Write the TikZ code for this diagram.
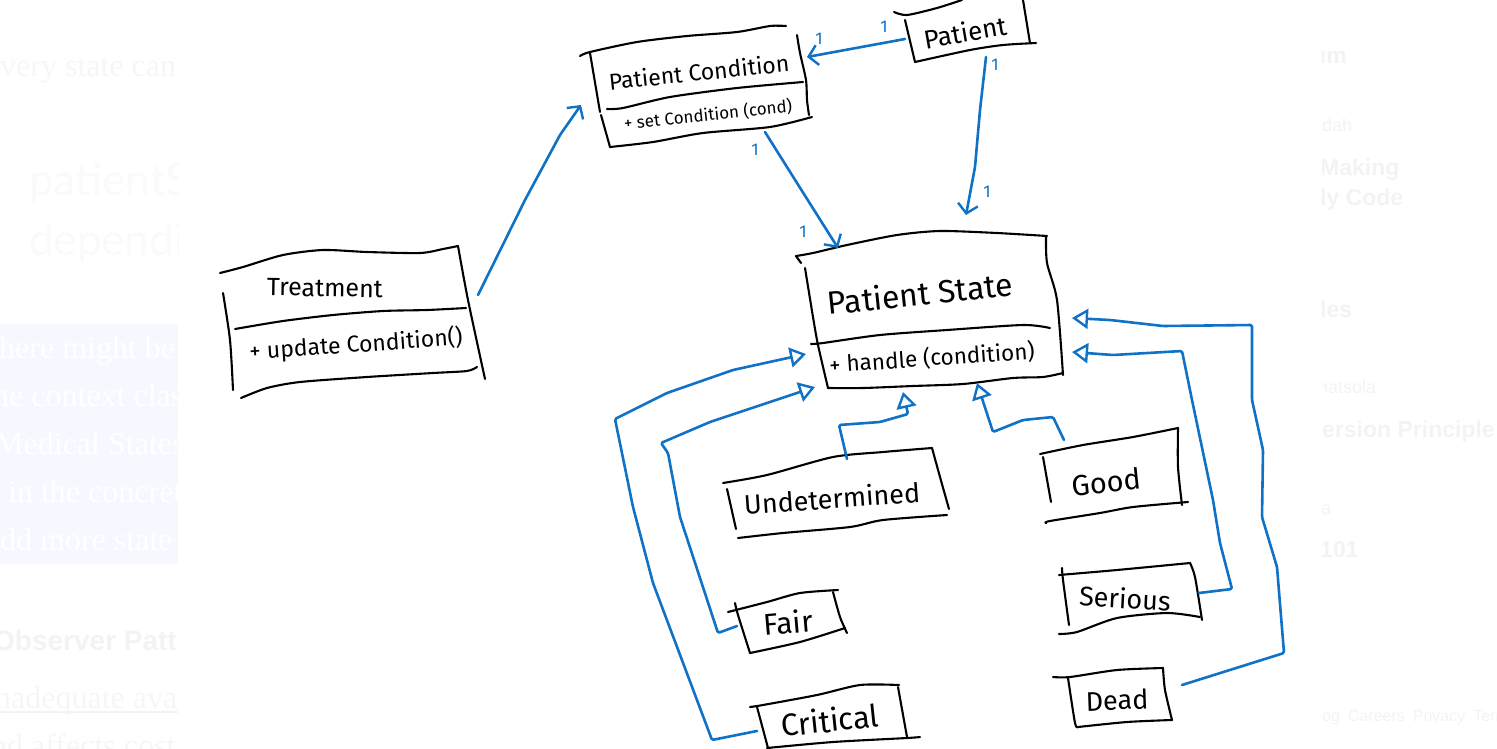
\documentclass[tikz,border=0pt]{standalone}
\usepackage{fontspec}
\usetikzlibrary{arrows.meta}
\setmainfont{Liberation Serif}
\newfontfamily\hand{Fira Sans}
\newfontfamily\fadesans{Liberation Sans}
\newfontfamily\fadelight{Lato}
\newcommand{\wob}[1]{\draw[ink] plot[smooth,tension=.45] coordinates {#1};}
\definecolor{inkblue}{HTML}{0F72C6}
\definecolor{panel}{HTML}{F5F8FF}
\definecolor{fadeA}{HTML}{F6F6F6}
\definecolor{fadeB}{HTML}{F3F3F3}
\tikzset{
  ink/.style={draw=black,line width=2.1pt,line cap=round,line join=round},
  wire/.style={draw=inkblue,line width=2.6pt,line cap=round,line join=round,rounded corners=1.5pt},
  assoc/.style={wire,-{Straight Barb[length=9pt,width=20pt,line width=2.4pt]}},
  inherit/.style={wire,-{Triangle[open,length=16pt,width=20pt,fill=white,line width=2.4pt]}},
  hw/.style={font=\hand\fontsize{#1}{#1}\selectfont,inner sep=0pt,text=black},
  mult/.style={font=\hand\fontsize{17}{17}\selectfont,text=inkblue,inner sep=0pt},
  fserif/.style={anchor=base west,inner sep=0pt,font=\fontsize{32}{32}\selectfont,text=#1},
  fbold/.style={anchor=base west,inner sep=0pt,font=\fadesans\bfseries\fontsize{23}{23}\selectfont,text=fadeB},
  fsmall/.style={anchor=base west,inner sep=0pt,font=\fadesans\fontsize{18}{18}\selectfont,text=fadeB},
  ffoot/.style={anchor=base west,inner sep=0pt,font=\fadesans\fontsize{16}{16}\selectfont,text=fadeB},
}
\begin{document}
\begin{tikzpicture}[x=1pt,y=-1pt]
\useasboundingbox (0,0) rectangle (1497,748);
% faded page behind the figure
\fill[panel] (0,324) rectangle (178,564);
\begin{scope}
\clip (0,0) rectangle (178,748);
\node[fserif=fadeA] (l1) at (0,76) {very state can};
\node[anchor=base west,inner sep=0pt,font=\fadelight\fontsize{44}{44}\selectfont,text=fadeA!60] (l2) at (29,195) {patientS};
\node[anchor=base west,inner sep=0pt,font=\fadelight\fontsize{44}{44}\selectfont,text=fadeA!60] (l3) at (29,255) {dependi};
\node[fserif=white] (p1) at (-1,358) {here might be};
\node[fserif=white] (p2) at (-7,406) {ne context clas};
\node[fserif=white] (p3) at (-5,454) {Medical States};
\node[fserif=white] (p4) at (8,502) {in the concret};
\node[fserif=white] (p5) at (0,550) {dd more state};
\node[anchor=base west,inner sep=0pt,font=\fadesans\bfseries\fontsize{28}{28}\selectfont,text=fadeB] (l4) at (-7,650) {Observer Patt};
\fill[fadeB] (0,711) rectangle (178,713);
\node[fserif=fadeA] (l5) at (-5,708) {nadequate ava};
\node[fserif=fadeA] (l6) at (-9,756) {nd affects cost};
\end{scope}
\begin{scope}
\clip (1322,0) rectangle (1497,748);
\node[fbold] (r1) at (1312,63) {um};
\node[fsmall] (r2) at (1300,131) {Sadah};
\node[fbold] (r3) at (1320,175) {Making};
\node[fbold] (r4) at (1320,205) {ly Code};
\node[fbold] (r5) at (1320,317) {les};
\node[fsmall] (r6) at (1318,393) {natsola};
\node[fbold] (r7) at (1322,437) {ersion Principle};
\node[fsmall] (r8) at (1312,514) {ka};
\node[fbold] (r9) at (1320,557) {101};
\node[ffoot] (r10) at (1322,721) {og\hspace{8pt}Careers\hspace{8pt}Privacy\hspace{8pt}Terms};
\end{scope}
% Treatment
\wob{(220,273)(243,267)(283,255)(323,250)(367,252)(420,253)(443,249)(458,246)}
\wob{(458,246)(468,300)(485,379)}
\wob{(235,329)(283,321)(333,315)(383,311)(427,310)(466,308)}
\wob{(223,293)(230,340)(233,390)}
\wob{(241,398)(267,388)(300,382)(367,377)(433,373)(467,371)(477,367)}
\node[hw=25,rotate=-1] (treatment) at (325,288) {Treatment};
\node[hw=23,rotate=4] (updatecond) at (356,345) {+ update Condition()};
% Patient Condition
\wob{(580,56)(590,52)(637,42)(687,36)(737,32)(770,26)(786,26)}
\wob{(590,53)(600,112)}
\wob{(601,115)(610,147)}
\wob{(797,35)(800,53)(806,80)(807,100)(809,115)}
\wob{(607,109)(623,108)(670,97)(737,88)(803,82)}
\wob{(610,147)(653,142)(703,133)(770,127)(812,117)}
\node[hw=23,rotate=6] (pcond) at (699,72) {Patient Condition};
\node[hw=17,rotate=6] (setcond) at (708,115) {+ set Condition (cond)};
% Patient
\wob{(894,12)(907,15)(937,8)(962,0)}
\wob{(905,20)(915,62)}
\wob{(1023,0)(1030,43)}
\wob{(915,62)(970,50)(1003,45)(1036,43)}
\node[hw=26,rotate=10] (patient) at (965,32) {Patient};
% Patient State
\wob{(796,256)(813,253)(847,245)(897,235)(940,231)(997,233)(1047,236)}
\wob{(796,256)(801,263)}
\wob{(805,268)(813,317)(818,345)(828,388)}
\wob{(1046,236)(1047,263)(1057,300)(1063,375)}
\wob{(811,344)(823,343)(880,335)(947,330)(1023,325)(1050,328)}
\wob{(828,388)(863,388)(913,386)(963,384)(1013,378)(1043,377)(1063,373)}
\node[hw=32,rotate=6] (pstate) at (920,293) {Patient State};
\node[hw=22.5,rotate=4] (handle) at (932,358) {+ handle (condition)};
% Undetermined
\wob{(723,483)(767,475)(833,457)(883,452)(932,448)}
\wob{(932,448)(940,477)(949,509)}
\wob{(727,489)(736,529)}
\wob{(738,538)(783,533)(850,527)(883,520)(947,515)}
\node[hw=27,rotate=4] (undet) at (832,498) {Undetermined};
% Fair
\wob{(728,612)(767,602)(800,593)(838,590)}
\wob{(735,603)(738,615)(750,653)}
\wob{(833,592)(840,617)(847,633)}
\wob{(750,653)(800,642)(845,628)}
\node[hw=30,rotate=5] (fair) at (788,622) {Fair};
% Critical
\wob{(750,707)(763,705)(817,695)(860,685)(899,685)}
\wob{(898,687)(907,737)}
\wob{(767,748)(833,742)(907,738)(920,737)}
\wob{(757,707)(768,748)}
\node[hw=31,rotate=6] (critical) at (830,720) {Critical};
% Good
\wob{(1040,454)(1083,445)(1133,437)(1178,428)}
\wob{(1043,457)(1051,502)}
\wob{(1178,428)(1178,467)(1182,505)}
\wob{(1046,523)(1050,521)(1100,513)(1133,507)(1188,502)}
\node[hw=29,rotate=6] (good) at (1106,482) {Good};
% Serious
\wob{(1059,575)(1117,570)(1190,563)}
\wob{(1062,568)(1063,580)(1069,625)}
\wob{(1190,563)(1195,577)(1202,620)}
\wob{(1059,634)(1077,632)(1117,618)(1167,613)(1200,617)}
\node[hw=27,rotate=-3] (serious) at (1125,598) {Serious};
% Dead
\wob{(1053,677)(1070,677)(1117,670)(1163,668)}
\wob{(1068,678)(1075,723)(1078,727)}
\wob{(1163,668)(1165,690)(1172,720)}
\wob{(1078,727)(1127,722)(1172,720)}
\node[hw=27,rotate=2] (dead) at (1117,700) {Dead};
% connector ends
\coordinate (tOut) at (478,295);
\coordinate (pcIn) at (581,105);
\coordinate (patOutL) at (905,39);
\coordinate (pcInR) at (807,57);
\coordinate (patOutB) at (986,57);
\coordinate (stIn) at (966,215);
\coordinate (pcOut) at (765,132);
\coordinate (stInL) at (838,248);
\coordinate (unOut) at (847,459);
\coordinate (stB1) at (903,392);
\coordinate (goOut) at (1064,440);
\coordinate (stB2) at (977,383);
\coordinate (seOut) at (1199,593);
\coordinate (stR1) at (1072,352);
\coordinate (deOut) at (1182,685);
\coordinate (stR2) at (1072,318);
\coordinate (faOut) at (737,626);
\coordinate (stL2) at (815,387);
\coordinate (crOut) at (757,731);
\coordinate (stL1) at (806,354);
% associations
\draw[assoc] (tOut) -- (525,200) -- (560,135) -- (pcIn);
\draw[assoc] (patOutL) -- (pcInR);
\draw[assoc] (patOutB) -- (980,110) -- (975,167) -- (stIn);
\draw[assoc] (pcOut) -- (797,183) -- (stInL);
% generalisations
\draw[inherit] (unOut) -- (839,425) -- (880,422) -- (908,414) -- (stB1);
\draw[inherit] (goOut) -- (1053,417) -- (1023,420) -- (993,432) -- (stB2);
\draw[inherit] (seOut) -- (1232,589) -- (1220,543) -- (1213,500) -- (1192,400) -- (1182,351) -- (1113,355) -- (stR1);
\draw[inherit] (deOut) -- (1284,653) -- (1277,567) -- (1262,517) -- (1263,450) -- (1252,400) -- (1252,325) -- (1163,326) -- (1110,320) -- (stR2);
\draw[inherit] (faOut) -- (718,633) -- (680,517) -- (668,453) -- (661,443) -- (710,422) -- (767,403) -- (stL2);
\draw[inherit] (crOut) -- (712,740) -- (653,583) -- (633,507) -- (615,419) -- (667,393) -- (733,370) -- (stL1);
% multiplicities
\node[mult] (m1) at (819,39) {1};
\node[mult] (m2) at (884,27) {1};
\node[mult] (m3) at (995,65) {1};
\node[mult] (m4) at (987,192) {1};
\node[mult] (m5) at (755,150) {1};
\node[mult] (m6) at (803,232) {1};
\end{tikzpicture}
\end{document}
